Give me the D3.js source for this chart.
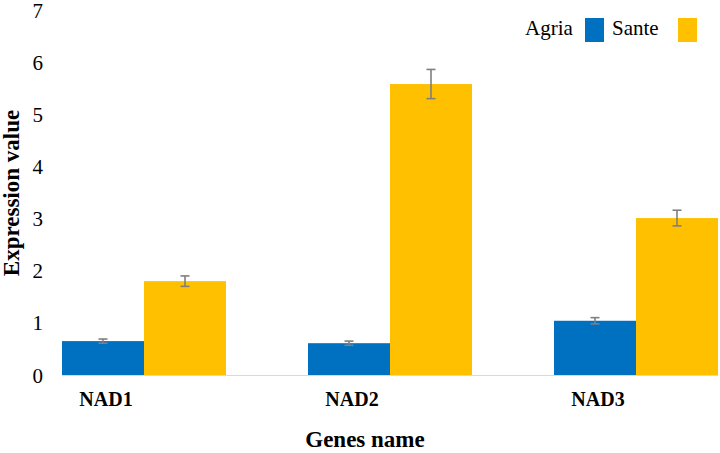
<!DOCTYPE html>
<html>
<head>
<meta charset="utf-8">
<script src="https://cdn.jsdelivr.net/npm/d3@7"></script>
<style>
    body { margin: 0; background: #fff; }
</style>
</head>
<body>
<div id="chart"></div>
<script>
// 数据
var genes = ['NAD1', 'NAD2', 'NAD3'];
var varieties = ['Agria', 'Sante'];
var agriaValues = [0.65, 0.61, 1.04];
var santeValues = [1.80, 5.58, 3.01];
var agriaErrors = [0.04, 0.04, 0.06];
var santeErrors = [0.10, 0.28, 0.15];
var yTicks = [0, 1, 2, 3, 4, 5, 6, 7];
var colors = ['#0070c0', '#ffc000'];

var serif = 'Liberation Serif, Tinos, Times New Roman, DejaVu Serif, serif';

var width = 720,
    height = 453;

var svg = d3.select('#chart').append('svg')
    .attr('width', width)
    .attr('height', height)
    .attr('font-family', serif);

// 比例尺
var x = d3.scaleBand()
    .domain(genes)
    .range([62, 718])
    .paddingInner(1 / 3)
    .paddingOuter(0);

var xInner = d3.scaleBand()
    .domain(varieties)
    .range([0, x.bandwidth()]);

var y = d3.scaleLinear()
    .domain([0, 7])
    .range([375, 10]);

// 把数据整理成每根柱子一条
var bars = [];
genes.forEach(function(g, i) {
    bars.push({ gene: g, variety: 'Agria', value: agriaValues[i], err: agriaErrors[i] });
    bars.push({ gene: g, variety: 'Sante', value: santeValues[i], err: santeErrors[i] });
});

// y轴刻度（没有轴线）
var yAxis = d3.axisLeft(y)
    .tickValues(yTicks)
    .tickSize(0)
    .tickPadding(0)
    .tickFormat(d3.format('d'));

var yG = svg.append('g')
    .attr('transform', 'translate(43,0)')
    .call(yAxis)
    .attr('font-family', serif)
    .attr('font-size', 21);
yG.select('.domain').remove();
yG.selectAll('text')
    .attr('fill', '#000')
    .attr('dy', '0.34em');

// 柱子
svg.append('g').selectAll('rect')
    .data(bars)
    .enter()
    .append('rect')
    .attr('x', function(d) { return x(d.gene) + xInner(d.variety); })
    .attr('y', function(d) { return y(d.value); })
    .attr('width', xInner.bandwidth())
    .attr('height', function(d) { return y(0) - y(d.value); })
    .attr('fill', function(d) { return d.variety == 'Agria' ? colors[0] : colors[1]; });

// 基线
svg.append('line')
    .attr('x1', x.range()[0])
    .attr('x2', x.range()[1])
    .attr('y1', y(0) + 0.5)
    .attr('y2', y(0) + 0.5)
    .style('stroke', '#d9d9d9')
    .style('stroke-width', 1.2);

// 误差线
var errG = svg.append('g')
    .style('stroke', '#7f7f7f')
    .style('stroke-width', 1.6)
    .style('fill', 'none');

bars.forEach(function(d) {
    var cx = x(d.gene) + xInner(d.variety) + xInner.bandwidth() / 2;
    var top = y(d.value + d.err),
        bottom = y(d.value - d.err);
    errG.append('line').attr('x1', cx).attr('x2', cx).attr('y1', top).attr('y2', bottom);
    errG.append('line').attr('x1', cx - 4.5).attr('x2', cx + 4.5).attr('y1', top).attr('y2', top);
    errG.append('line').attr('x1', cx - 4.5).attr('x2', cx + 4.5).attr('y1', bottom).attr('y2', bottom);
});

// x轴标签，位置对齐在Agria柱子中间
svg.append('g').selectAll('text')
    .data(genes)
    .enter()
    .append('text')
    .attr('x', function(d) { return x(d) + xInner.bandwidth() / 2 + 3; })
    .attr('y', 406)
    .attr('text-anchor', 'middle')
    .attr('font-size', 20)
    .attr('font-weight', 'bold')
    .text(function(d) { return d; });

// 轴标题
svg.append('text')
    .attr('x', 365)
    .attr('y', 447)
    .attr('text-anchor', 'middle')
    .attr('font-size', 23)
    .attr('font-weight', 'bold')
    .text('Genes name');

svg.append('text')
    .attr('transform', 'translate(19,193) rotate(-90)')
    .attr('text-anchor', 'middle')
    .attr('font-size', 23)
    .attr('font-weight', 'bold')
    .text('Expression value');

// 图例：文字在前，色块在后
var legendX = [525, 612];
var legend = svg.append('g').selectAll('g')
    .data(varieties)
    .enter()
    .append('g')
    .attr('transform', function(d, i) { return 'translate(' + legendX[i] + ',0)'; });

legend.append('text')
    .attr('x', 0)
    .attr('y', 35)
    .attr('font-size', 21)
    .text(function(d) { return d; });

legend.append('rect')
    .attr('x', function(d, i) { return i == 0 ? 60 : 66; })
    .attr('y', 18)
    .attr('width', 19)
    .attr('height', 24)
    .attr('fill', function(d, i) { return colors[i]; });
</script>
</body>
</html>
